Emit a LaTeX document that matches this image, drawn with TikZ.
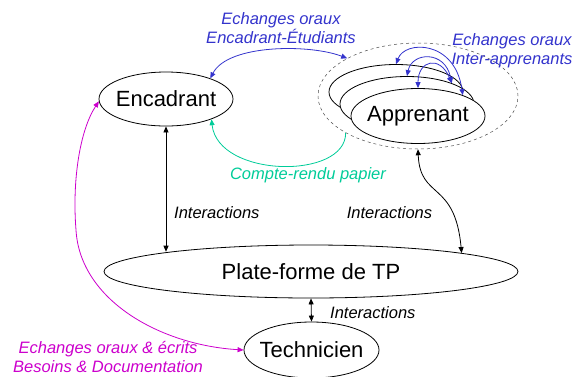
\documentclass[tikz,border=0pt]{standalone}
\usepackage{fontspec}
\setmainfont{Liberation Sans}
\usetikzlibrary{shapes.geometric,arrows.meta,calc}
\tikzset {>={Triangle[length=6pt,width=5pt]}}
\definecolor{oral}{RGB}{51,51,204}
\definecolor{rendu}{RGB}{0,204,153}
\definecolor{tech}{RGB}{204,0,204}
\tikzset{
  actor/.style={draw,ellipse,inner sep=0pt,line width=.8pt,fill=white},
  big/.style={font=\fontsize{22}{24}\selectfont},
  lbl/.style={font=\fontsize{16.5}{19}\selectfont\itshape,align=center,inner sep=0pt},
  link/.style={line width=.8pt,<->}
}
\begin{document}
\begin{tikzpicture}[x=1pt,y=-1pt]
\useasboundingbox (0,0) rectangle (584,376);
\node[ellipse,draw=black!70,dashed,line width=.5pt,minimum width=200pt,minimum height=106pt] (grp) at (418,96) {};
\node[actor,minimum width=134pt,minimum height=55pt] (b1) at (396,92) {};
\node[actor,minimum width=134pt,minimum height=55pt] (b2) at (407,104) {};
\node[actor,big,minimum width=134pt,minimum height=55pt,label={[big]center:Apprenant}] (app) at (418,116) {};
\node[actor,big,minimum width=134pt,minimum height=54pt,label={[big]center:Encadrant}] (enc) at (166,99) {};
\node[actor,big,minimum width=414pt,minimum height=53pt,label={[big]center:Plate-forme de TP}] (plat) at (311,271.5) {};
\node[actor,big,minimum width=135pt,minimum height=56pt,label={[big]center:Technicien}] (tech) at (311.5,350) {};
% interactions
\draw[link] (enc.south) -- (enc.south |- plat.172);
\draw[link] (grp.south) .. controls (420,200) and (455,180) .. (plat.7);
\draw[link] (plat.south) -- (tech.north);
\node[lbl,anchor=west] (i1) at (174,213) {Interactions};
\node[lbl] (i2) at (389.5,213) {Interactions};
\node[lbl,anchor=west] (i3) at (330,313) {Interactions};
% echanges oraux
\draw[link,oral] (grp.152) .. controls (310,44) and (228,44) .. (enc.25);
\draw[link,oral] (b1.north) .. controls (405,40) and (455,40) .. (app.25);
\draw[link,oral] (b2.north) .. controls (412,52) and (445,50) .. (b2.25);
\draw[link,oral] (app.north) .. controls (418,60) and (440,55) .. (b2.25);
\node[lbl,text=oral] (o1) at (281,28) {Echanges oraux\\Encadrant-Étudiants};
\node[lbl,text=oral] (o2) at (512,51) {Echanges oraux\\Inter-apprenants};
% compte-rendu
\draw[line width=.8pt,->,rendu] (grp.207) .. controls (346,180) and (218,178) .. (enc.-24);
\node[lbl,text=rendu] (cr) at (308,175) {Compte-rendu papier};
% technicien
\draw[link,tech] (enc.182) .. controls (80,130) and (72,180) .. (76,230)
  .. controls (80,300) and (160,345) .. (tech.west);
\node[lbl,text=tech] (t1) at (108,357) {Echanges oraux \& écrits\\Besoins \& Documentation};
\end{tikzpicture}
\end{document}
